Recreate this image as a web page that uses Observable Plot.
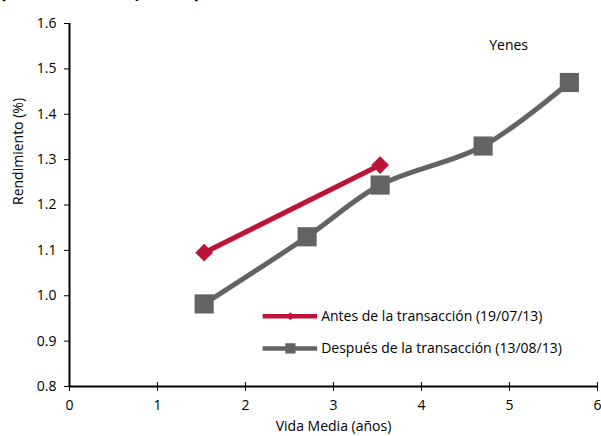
<!DOCTYPE html>
<html>
<head>
<meta charset="utf-8">
<script src="https://cdn.jsdelivr.net/npm/d3@7"></script>
<script src="https://cdn.jsdelivr.net/npm/@observablehq/plot@0.6"></script>
<style>
  html, body { margin: 0; padding: 0; background: #fff; }
  #chart { width: 601px; height: 436px; overflow: hidden; }
</style>
</head>
<body>
<div id="chart"></div>
<script>
const titleText = "(Rendimiento, en %)";
const labelSeries = "Yenes";
const xLabel = "Vida Media (años)";
const yLabel = "Rendimiento (%)";
const xTicks = [0, 1, 2, 3, 4, 5, 6];
const yTicks = [0.8, 0.9, 1.0, 1.1, 1.2, 1.3, 1.4, 1.5, 1.6];

const seriesA = "Antes de la transacción (19/07/13)";
const seriesB = "Después de la transacción (13/08/13)";
const antesX = [1.53, 3.53];
const antesY = [1.095, 1.288];
const despuesX = [1.53, 2.70, 3.53, 4.70, 5.68];
const despuesY = [0.982, 1.130, 1.244, 1.330, 1.470];

const colorA = "#BE1238";
const colorB = "#636363";

const antes = antesX.map((x, i) => ({x, y: antesY[i]}));
const despues = despuesX.map((x, i) => ({x, y: despuesY[i]}));

const font = "'Open Sans', sans-serif";
const fs = 14;

const plot = Plot.plot({
  width: 601,
  height: 436,
  marginLeft: 69,
  marginRight: 4,
  marginTop: 23,
  marginBottom: 50,
  style: {fontFamily: font, fontSize: fs + "px", color: "#000", background: "#fff"},
  x: {domain: [0, 6], ticks: xTicks, label: null},
  y: {domain: [0.8, 1.6], ticks: yTicks, label: null},
  marks: [
    Plot.axisY({ticks: yTicks, tickFormat: d => d.toFixed(1), tickSize: 5, tickPadding: 8, fontSize: fs, label: null}),
    Plot.axisX({ticks: xTicks, tickFormat: d => String(d), tickSize: 5, tickPadding: 9, fontSize: fs, label: null, textAnchor: "middle", dx: 0}),
    Plot.ruleX(xTicks, {x: d => d, y1: 0.8, y2: 0.8, insetTop: -4, stroke: "#000", strokeWidth: 1}),
    Plot.ruleX([0], {stroke: "#000", strokeWidth: 2}),
    Plot.ruleY([0.8], {stroke: "#000", strokeWidth: 2}),
    Plot.line(despues, {x: "x", y: "y", stroke: colorB, strokeWidth: 5, curve: "catmull-rom"}),
    Plot.dot(despues, {x: "x", y: "y", symbol: "square", r: 10.8, fill: colorB, stroke: "none"}),
    Plot.line(antes, {x: "x", y: "y", stroke: colorA, strokeWidth: 5}),
    Plot.dot(antes, {x: "x", y: "y", symbol: "diamond2", r: 8, fill: colorA, stroke: "none"}),
    Plot.text([labelSeries], {x: () => 4.99, y: () => 1.552, text: d => d, textAnchor: "middle", fontSize: fs, fill: "#000"}),
    Plot.text([xLabel], {frameAnchor: "bottom", dy: 44, text: d => d, fontSize: fs, fill: "#000"}),
    Plot.text([yLabel], {frameAnchor: "left", dx: -51, rotate: -90, text: d => d, fontSize: fs, fill: "#000"}),
    // legend
    Plot.ruleY([seriesA], {x1: 2.20, x2: 2.82, y: () => 0.955, stroke: colorA, strokeWidth: 4.5}),
    Plot.dot([seriesA], {x: () => 2.51, y: () => 0.955, symbol: "diamond2", r: 3.6, fill: colorA}),
    Plot.text([seriesA], {x: () => 2.86, y: () => 0.955, text: d => d, textAnchor: "start", fontSize: fs, fill: "#000"}),
    Plot.ruleY([seriesB], {x1: 2.20, x2: 2.82, y: () => 0.884, stroke: colorB, strokeWidth: 4.5}),
    Plot.dot([seriesB], {x: () => 2.51, y: () => 0.884, symbol: "square", r: 5.8, fill: colorB}),
    Plot.text([seriesB], {x: () => 2.86, y: () => 0.884, text: d => d, textAnchor: "start", fontSize: fs, fill: "#000"}),
    Plot.text([titleText], {frameAnchor: "top-left", dx: -70, dy: -26, text: d => d, textAnchor: "start", lineAnchor: "bottom", fontSize: 20, fontWeight: "bold", fill: "#000"})
  ]
});
document.getElementById("chart").appendChild(plot);
</script>
</body>
</html>
